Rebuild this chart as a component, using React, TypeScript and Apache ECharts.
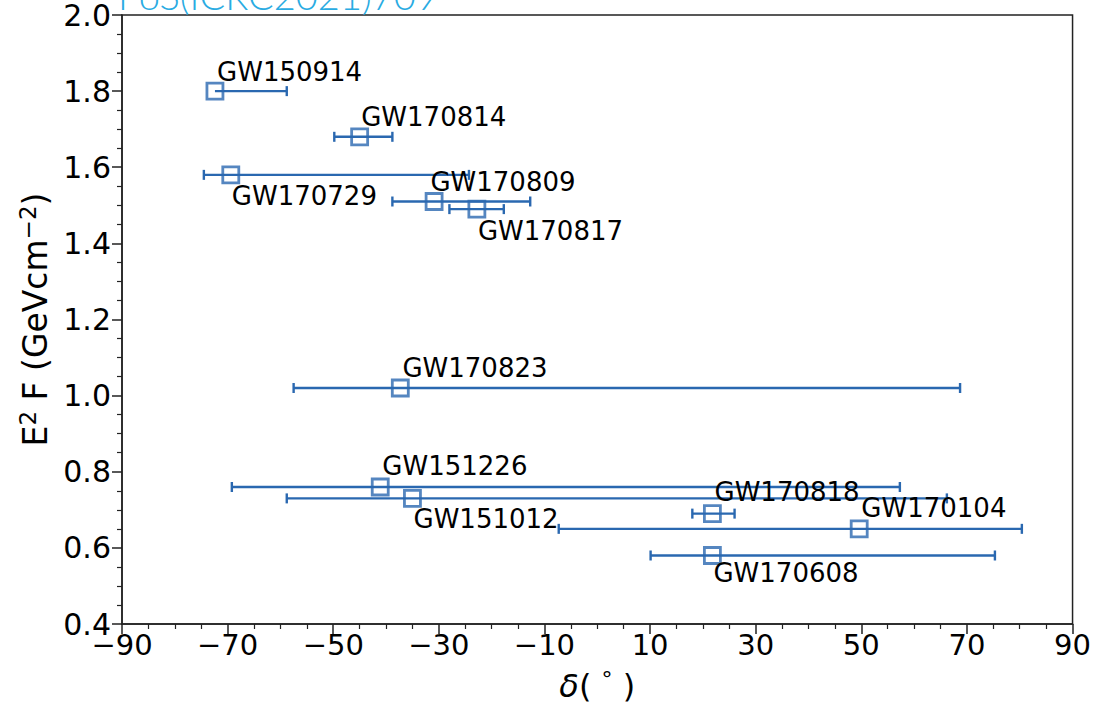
import React, { useEffect, useRef } from "react";
import * as echarts from "echarts";

const events = ["GW150914", "GW170814", "GW170729", "GW170809", "GW170817", "GW170823", "GW151226", "GW151012", "GW170818", "GW170104", "GW170608"];
const decl = [-72.4, -45.0, -69.4, -30.9, -22.8, -37.3, -41.1, -35.0, 21.8, 49.6, 21.8];
const flux = [1.80, 1.68, 1.58, 1.51, 1.49, 1.02, 0.76, 0.73, 0.69, 0.65, 0.58];
const declLow = [-72.4, -49.8, -74.5, -38.8, -28.0, -57.5, -69.2, -58.8, 18.0, -7.3, 10.1];
const declHigh = [-58.8, -38.8, -24.3, -12.7, -17.7, 68.7, 57.3, 66.2, 26.0, 80.4, 75.3];
const labelX = [-72.0, -44.7, -69.2, -31.6, -22.6, -36.9, -40.7, -34.8, 22.2, 50.0, 22.0];
const labelY = [1.850, 1.732, 1.524, 1.561, 1.432, 1.073, 0.815, 0.676, 0.747, 0.705, 0.534];
const xTicks = [-90, 90, 20];
const yTicks = [0.4, 2.0, 0.2];

const BLUE = "#2a68b0";
const FONT = "DejaVu Sans";

export default function App() {
  const ref = useRef<HTMLDivElement>(null);
  useEffect(() => {
    const chart = echarts.init(ref.current!, null, { renderer: "svg" });
    const errData = events.map((_, i) => [declLow[i], declHigh[i], flux[i], decl[i]]);
    const ptData = events.map((n, i) => ({ name: n, value: [decl[i], flux[i]] }));
    const lblData = events.map((n, i) => ({ name: n, value: [labelX[i], labelY[i]] }));
    chart.setOption({
      animation: false,
      grid: { left: 122, right: 19, top: 15, bottom: 83, show: true, borderColor: "#222", borderWidth: 1.5, backgroundColor: "transparent" },
      graphic: [
        {
          type: "text",
          left: 118,
          top: -24,
          style: { text: "PoS(ICRC2021)709", fill: "#29abe2", font: "300 38px Lato" },
        },
      ],
      xAxis: {
        type: "value",
        min: xTicks[0],
        max: xTicks[1],
        interval: xTicks[2],
        splitLine: { show: false },
        axisLine: { onZero: false, lineStyle: { color: "#222", width: 1.5 } },
        axisTick: { length: 10, lineStyle: { color: "#222", width: 1.5 } },
        minorTick: { show: true, splitNumber: 4, length: 5, lineStyle: { color: "#222", width: 1.2 } },
        axisLabel: {
          color: "#000",
          fontFamily: FONT,
          fontSize: 29,
          margin: 6,
          formatter: (v: number) => (v < 0 ? "\u2212" + Math.abs(v) : String(v)),
        },
        name: "{i|δ}( {s|°} )",
        nameLocation: "middle",
        nameGap: 44,
        nameTextStyle: {
          color: "#000",
          fontFamily: FONT,
          fontSize: 32,
          rich: {
            i: { fontStyle: "italic", fontFamily: FONT, fontSize: 32, color: "#000" },
            s: { fontFamily: FONT, fontSize: 22, color: "#000", verticalAlign: "top", padding: [0, 0, 14, 0] },
          },
        },
      },
      yAxis: {
        type: "value",
        min: yTicks[0],
        max: yTicks[1],
        interval: yTicks[2],
        splitLine: { show: false },
        axisLine: { show: true, onZero: false, lineStyle: { color: "#222", width: 1.5 } },
        axisTick: { show: true, length: 10, lineStyle: { color: "#222", width: 1.5 } },
        minorTick: { show: true, splitNumber: 4, length: 5, lineStyle: { color: "#222", width: 1.2 } },
        axisLabel: {
          color: "#000",
          fontFamily: FONT,
          fontSize: 30,
          margin: 11,
          formatter: (v: number) => v.toFixed(1),
        },
        name: "E{sup|2} F (GeVcm{sup|−2})",
        nameLocation: "middle",
        nameRotate: 90,
        nameGap: 60,
        nameTextStyle: {
          color: "#000",
          fontFamily: FONT,
          fontSize: 33,
          rich: {
            sup: { fontFamily: FONT, fontSize: 23, color: "#000", verticalAlign: "top", padding: [0, 0, 16, 0] },
          },
        },
      },
      series: [
        {
          type: "custom",
          data: errData,
          z: 2,
          renderItem: (params: any, api: any) => {
            const a = api.coord([api.value(0), api.value(2)]);
            const b = api.coord([api.value(1), api.value(2)]);
            const c = api.coord([api.value(3), api.value(2)]);
            const cap = 5;
            const style = { stroke: BLUE, lineWidth: 2.4 };
            const children: any[] = [{ type: "line", shape: { x1: a[0], y1: a[1], x2: b[0], y2: b[1] }, style }];
            if (Math.abs(a[0] - c[0]) > 0.5) children.push({ type: "line", shape: { x1: a[0], y1: a[1] - cap, x2: a[0], y2: a[1] + cap }, style });
            if (Math.abs(b[0] - c[0]) > 0.5) children.push({ type: "line", shape: { x1: b[0], y1: b[1] - cap, x2: b[0], y2: b[1] + cap }, style });
            return { type: "group", children };
          },
        },
        {
          type: "scatter",
          data: ptData,
          symbol: "rect",
          symbolSize: 16,
          z: 3,
          itemStyle: { color: "rgba(0,0,0,0)", borderColor: BLUE, borderWidth: 2.8 },
        },
        {
          type: "custom",
          data: lblData,
          z: 4,
          renderItem: (params: any, api: any) => {
            const p = api.coord([api.value(0), api.value(1)]);
            return {
              type: "text",
              x: p[0],
              y: p[1],
              style: {
                text: events[params.dataIndex],
                fill: "#000",
                font: `26px '${FONT}'`,
                textAlign: "left",
                textVerticalAlign: "middle",
              },
            };
          },
        },
      ],
    });
    return () => chart.dispose();
  }, []);
  return <div ref={ref} style={{ position: "fixed", left: 0, top: 0, width: 1094, height: 707, background: "#fff" }} />;
}
